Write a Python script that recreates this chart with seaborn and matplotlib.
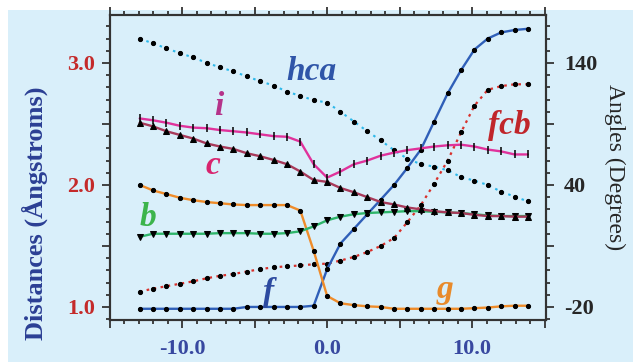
import seaborn as sns
from matplotlib import pyplot as plt
from matplotlib.patches import Rectangle
from matplotlib.ticker import MultipleLocator, FixedLocator

sns.set_style("ticks")
plt.rcParams['font.family'] = ['Liberation Serif', 'DejaVu Serif']

# reaction coordinate (x positions of the sampled points)
x = [-12.95, -12.03, -11.10, -10.18, -9.25, -8.33, -7.41, -6.48, -5.56, -4.63,
     -3.71, -2.78, -1.86, -0.94, -0.01, 0.91, 1.84, 2.76, 3.69, 4.61,
     5.53, 6.46, 7.38, 8.31, 9.23, 10.16, 11.08, 12.00, 12.93, 13.85]

hca = [3.20, 3.16, 3.12, 3.08, 3.045, 3.0, 2.965, 2.93, 2.89, 2.85,
       2.815, 2.765, 2.73, 2.695, 2.675, 2.60, 2.52, 2.44, 2.365, 2.285,
       2.215, 2.17, 2.15, 2.12, 2.065, 2.035, 2.0, 1.945, 1.905, 1.865]
i_ = [2.545, 2.53, 2.51, 2.485, 2.47, 2.465, 2.45, 2.44, 2.43, 2.415,
      2.40, 2.395, 2.355, 2.17, 2.06, 2.11, 2.17, 2.20, 2.24, 2.265,
      2.285, 2.30, 2.315, 2.325, 2.33, 2.315, 2.29, 2.275, 2.25, 2.25]
c_ = [2.51, 2.48, 2.44, 2.41, 2.38, 2.34, 2.315, 2.295, 2.26, 2.235,
      2.205, 2.17, 2.11, 2.04, 2.025, 1.975, 1.94, 1.90, 1.86, 1.84,
      1.815, 1.80, 1.785, 1.775, 1.77, 1.755, 1.745, 1.745, 1.74, 1.74]
b_ = [1.575, 1.60, 1.60, 1.60, 1.60, 1.60, 1.605, 1.605, 1.605, 1.60,
      1.60, 1.605, 1.62, 1.66, 1.71, 1.74, 1.76, 1.77, 1.775, 1.78,
      1.785, 1.785, 1.78, 1.775, 1.77, 1.76, 1.75, 1.745, 1.745, 1.745]
fcb = [1.125, 1.15, 1.17, 1.19, 1.21, 1.235, 1.255, 1.27, 1.29, 1.31,
       1.325, 1.333, 1.34, 1.35, 1.355, 1.38, 1.41, 1.45, 1.50, 1.565,
       1.695, 1.835, 2.01, 2.20, 2.43, 2.65, 2.78, 2.81, 2.825, 2.825]
f_ = [0.985, 0.985, 0.985, 0.985, 0.985, 0.985, 0.985, 0.985, 1.0, 1.0,
      1.0, 1.0, 1.0, 1.01, 1.31, 1.52, 1.64, 1.76, 1.88, 2.0,
      2.14, 2.29, 2.52, 2.75, 2.94, 3.11, 3.2, 3.25, 3.27, 3.28]
g_ = [2.0, 1.955, 1.925, 1.895, 1.875, 1.86, 1.85, 1.84, 1.835, 1.835,
      1.835, 1.835, 1.79, 1.46, 1.09, 1.03, 1.015, 1.005, 1.0, 0.985,
      0.985, 0.985, 0.985, 0.985, 0.985, 0.99, 0.995, 1.005, 1.01, 1.01]

y_major = [1.0, 1.5, 2.0, 2.5, 3.0]
left_labels = ['1.0', '', '2.0', '', '3.0']
right_labels = ['-20', '', '40', '', '140']
x_major = [-15, -10, -5, 0, 5, 10, 15]
x_labels = ['', '-10.0', '', '0.0', '', '10.0', '']

bg = '#d9effa'
fig = plt.figure(figsize=(6.33, 3.62), dpi=100)
fig.patch.set_facecolor('white')
fig.patches.append(Rectangle((8 / 633, 0), 1, 352 / 362, transform=fig.transFigure,
                             facecolor=bg, edgecolor='none', zorder=-10))
ax = fig.add_axes([110 / 633, 1 - 320 / 362, 436 / 633, 305 / 362])
ax.set_facecolor(bg)

dot = dict(marker='o', markersize=3, markerfacecolor='black', markeredgecolor='black')
sns.lineplot(x=x, y=hca, ax=ax, color='#2db8ea', lw=1.5, linestyle=(0, (1.2, 2.2)), **dot)
sns.lineplot(x=x, y=fcb, ax=ax, color='#d8312c', lw=1.6, linestyle=(0, (1.2, 2.0)), **dot)
sns.lineplot(x=x, y=f_, ax=ax, color='#2f5fb8', lw=1.7, **dot)
sns.lineplot(x=x, y=g_, ax=ax, color='#ef8c2a', lw=1.7, **dot)
sns.lineplot(x=x, y=b_, ax=ax, color='#2fb56a', lw=1.7, marker='v', markersize=4,
             markerfacecolor='black', markeredgecolor='black')
sns.lineplot(x=x, y=c_, ax=ax, color='#a83a5a', lw=1.7, marker='^', markersize=4,
             markerfacecolor='black', markeredgecolor='black')
sns.lineplot(x=x, y=i_, ax=ax, color='#e0329b', lw=1.7, marker='|', markersize=6,
             markeredgewidth=1.1, markeredgecolor='black')

for sp in ax.spines.values():
    sp.set_visible(True)
    sp.set_linewidth(1.5)
    sp.set_color('#333333')

ax.set_xticks(x_major)
ax.set_xticklabels(x_labels)
ax.xaxis.set_minor_locator(MultipleLocator(1))
ax.set_yticks(y_major)
ax.set_yticklabels(left_labels)
ax.yaxis.set_minor_locator(MultipleLocator(0.1))
ax.set_xlim(-15, 15.1)
ax.set_ylim(0.893, 3.393)
ax.tick_params(which='both', direction='out', top=True, color='#333333', width=1.3)
ax.tick_params(which='major', length=6)
ax.tick_params(which='minor', length=3)
ax.tick_params(axis='x', pad=8, labelsize=16, labelcolor='#3848a0')
ax.tick_params(axis='y', pad=5, labelsize=16, labelcolor='#c42a2a')
for t in ax.get_xticklabels() + ax.get_yticklabels():
    t.set_fontweight('bold')
ax.set_xlabel('')
ax.set_ylabel('Distances (Ångstroms)', fontsize=19, fontweight='bold', color='#2b3f94')
ax.yaxis.set_label_coords(-0.142, 0.35)

ax2 = ax.twinx()
ax2.set_ylim(ax.get_ylim())
ax2.yaxis.set_major_locator(FixedLocator(y_major))
ax2.yaxis.set_minor_locator(MultipleLocator(0.1))
ax2.set_yticklabels(right_labels)
ax2.tick_params(which='both', direction='out', color='#333333', width=1.3)
ax2.tick_params(which='major', length=6, pad=7, labelsize=16)
ax2.tick_params(which='minor', length=3)
for t in ax2.get_yticklabels():
    t.set_fontweight('bold')
for sp in ax2.spines.values():
    sp.set_linewidth(1.5)
    sp.set_color('#333333')
ax2.set_ylabel('Angles (Degrees)', fontsize=17, rotation=270, labelpad=20)

lab = dict(fontsize=24, fontweight='bold', fontstyle='italic', ha='center', va='center')
ax.text(-1.1, 2.93, 'hca', color='#2f55a8', **lab)
ax.text(-7.5, 2.64, 'i', color='#b5338a', **lab)
ax.text(-7.86, 2.16, 'c', color='#d8246e', **lab)
ax.text(-12.4, 1.73, 'b', color='#3cb44b', **lab)
ax.text(-4.07, 1.12, 'f', color='#2c4aa0', **lab)
ax.text(8.14, 1.14, 'g', color='#e88a2a', **lab)
ax.text(12.6, 2.49, 'fcb', color='#c0262b', **lab)

fig.savefig('out.png', dpi=100, facecolor=fig.get_facecolor())
